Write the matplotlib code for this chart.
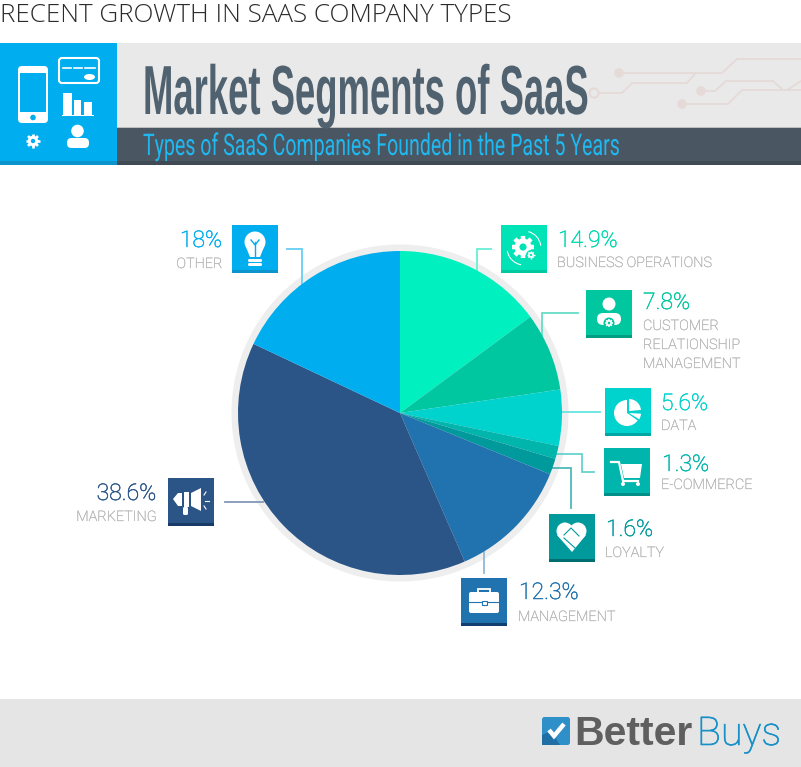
import numpy as np
import matplotlib
matplotlib.use('Agg')
import matplotlib.pyplot as plt
from matplotlib.patches import Rectangle, Circle, FancyBboxPatch, Polygon, Wedge, Ellipse
from matplotlib.patheffects import AbstractPathEffect, withStroke
from matplotlib.transforms import Affine2D

# datos del grafico, en orden horario desde arriba
segmentos = ['BUSINESS OPERATIONS', 'CUSTOMER\nRELATIONSHIP\nMANAGEMENT', 'DATA', 'E-COMMERCE',
             'LOYALTY', 'MANAGEMENT', 'MARKETING', 'OTHER']
valores = [14.9, 7.8, 5.6, 1.3, 1.6, 12.3, 38.6, 18]
etiquetas_valor = ['14.9%', '7.8%', '5.6%', '1.3%', '1.6%', '12.3%', '38.6%', '18%']
colores = ['#00F0C0', '#00C7A0', '#00D2CE', '#00B5AB', '#009A9C', '#2073AE', '#2B5587', '#00AEEF']
colores_borde = ['#00C9A0', '#009E80', '#00A6A3', '#008F88', '#006E70', '#123F70', '#173A66', '#0D94CC']
colores_guia = ['#66EFD5', '#66DCC5', '#66E4E1', '#66D3CD', '#4DB8BA', '#8FB9D7', '#8099B7', '#66CEF5']

W, H = 801, 767
plt.rcParams['font.family'] = ['Open Sans', 'DejaVu Sans']
fig = plt.figure(figsize=(W / 100, H / 100), dpi=100, facecolor='white')
ax = fig.add_axes([0, 0, 1, 1])
ax.set_xlim(0, W)
ax.set_ylim(H, 0)
ax.axis('off')


# deforma el texto, no hay fuente tan condensada instalada
class Comprimir(AbstractPathEffect):
    def __init__(self, sx, sy, x0, y0):
        super().__init__()
        self.t = Affine2D().translate(-x0, -y0).scale(sx, sy).translate(x0, y0)

    def draw_path(self, renderer, gc, tpath, affine, rgbFace=None):
        renderer.draw_path(gc, tpath, affine + self.t, rgbFace)


def texto_ajustado(x1, x2, y, s, sy=1.0, **kw):
    xc = (x1 + x2) / 2
    t = ax.text(xc, y, s, ha='center', va='baseline', **kw)
    ancho = t.get_window_extent(fig.canvas.get_renderer()).width
    t.set_path_effects([Comprimir((x2 - x1) / ancho, sy, xc, H - y)])
    return t


def rect(x, y, w, h, c, z=1):
    ax.add_patch(Rectangle((x, y), w, h, fc=c, ec='none', zorder=z))


def redondo(x, y, w, h, r, fc='white', ec='none', lw=0, z=5):
    ax.add_patch(FancyBboxPatch((x + r, y + r), w - 2 * r, h - 2 * r, boxstyle='round,pad=%g,rounding_size=%g' % (r, r),
                                fc=fc, ec=ec, lw=lw, zorder=z))


def circulo(x, y, r, c='white', z=5):
    ax.add_patch(Circle((x, y), r, fc=c, ec='none', zorder=z))


def engranaje(x, y, r, fondo, c='white', z=5):
    for a in np.arange(0, 180, 45):
        dx, dy = np.cos(np.radians(a)) * r * 1.35, np.sin(np.radians(a)) * r * 1.35
        ax.plot([x - dx, x + dx], [y - dy, y + dy], color=c, lw=r * 0.38, solid_capstyle='butt', zorder=z)
    circulo(x, y, r, c, z)
    circulo(x, y, r * 0.42, fondo, z + 0.1)


# ojo: el eje y esta invertido, los angulos de Wedge van en sentido horario
def icono_negocio(x, y, c):
    engranaje(x + 22, y + 22, 8.5, c)
    circulo(x + 30, y + 30, 5, c, 5.5)
    engranaje(x + 30, y + 30, 2.8, c, z=6)
    ax.add_patch(Wedge((x + 23, y + 23), 17.5, -75, -8, width=1.1, fc='white', ec='none', zorder=5))
    ax.add_patch(Wedge((x + 23, y + 23), 17.5, 100, 170, width=1.1, fc='white', ec='none', zorder=5))


def icono_cliente(x, y, c):
    circulo(x + 23, y + 14, 6.5)
    redondo(x + 11, y + 23, 24, 12, 6)
    circulo(x + 23, y + 33, 5.5, c, 6)
    engranaje(x + 23, y + 33, 3, c, z=7)


def icono_datos(x, y, c):
    ax.add_patch(Wedge((x + 22, y + 25), 13, 35, 270, fc='white', ec='none', zorder=5))
    ax.add_patch(Wedge((x + 24, y + 23), 12, 270, 355, fc='white', ec='none', zorder=5))
    ax.add_patch(Wedge((x + 24, y + 25), 12, 3, 32, fc='white', ec='none', zorder=5))


def icono_carro(x, y, c):
    ax.plot([x + 7, x + 15, x + 19, x + 34], [y + 14, y + 14, y + 33, y + 33], color='white', lw=1.6, zorder=5)
    ax.add_patch(Polygon([[x + 17, y + 16], [x + 38, y + 16], [x + 36, y + 30], [x + 20, y + 30]], fc='white', ec='none', zorder=5))
    circulo(x + 19, y + 36, 2)
    circulo(x + 34, y + 36, 2)


def icono_manos(x, y, c):
    circulo(x + 16, y + 17, 8.5)
    circulo(x + 29, y + 17, 8.5)
    ax.add_patch(Polygon([[x + 8, y + 21], [x + 37, y + 21], [x + 23, y + 38]], fc='white', ec='none', zorder=5))
    ax.plot([x + 15, x + 22, x + 30], [y + 21, y + 14, y + 22], color=c, lw=0.8, zorder=6)
    ax.plot([x + 15, x + 26], [y + 24, y + 34], color=c, lw=0.8, zorder=6)


def icono_maletin(x, y, c):
    redondo(x + 8, y + 14, 30, 21, 2)
    ax.add_patch(Rectangle((x + 17, y + 11), 12, 5, fc='none', ec='white', lw=1.3, zorder=5))
    ax.plot([x + 8, x + 38], [y + 24, y + 24], color=c, lw=0.8, zorder=6)
    ax.add_patch(Rectangle((x + 20.5, y + 23), 5, 4, fc='white', ec=c, lw=0.8, zorder=6))


def icono_megafono(x, y, c):
    ax.add_patch(Polygon([[x + 5, y + 21], [x + 10, y + 15], [x + 14, y + 15], [x + 14, y + 28], [x + 10, y + 28]], fc='white', ec='none', zorder=5))
    rect(x + 16, y + 14, 5, 15, 'white', 5)
    ax.add_patch(Polygon([[x + 23, y + 15], [x + 33, y + 10], [x + 33, y + 33], [x + 23, y + 28]], fc='white', ec='none', zorder=5))
    redondo(x + 15, y + 29, 5, 8, 1.5)
    for a, b, e, f in [(36, 17, 38, 14), (37, 23, 41, 23), (36, 28, 38, 31)]:
        ax.plot([x + a, x + e], [y + b, y + f], color='white', lw=0.8, zorder=5)


def icono_bombilla(x, y, c):
    circulo(x + 23, y + 17, 10.5)
    ax.add_patch(Polygon([[x + 14, y + 22], [x + 32, y + 22], [x + 28, y + 32], [x + 18, y + 32]], fc='white', ec='none', zorder=5))
    ax.plot([x + 23, x + 23], [y + 17, y + 31], color=c, lw=1, zorder=6)
    ax.plot([x + 19, x + 23, x + 27], [y + 15, y + 20, y + 15], color=c, lw=1, zorder=6)
    redondo(x + 16, y + 34, 14, 3, 1.4)
    redondo(x + 16, y + 38, 14, 3, 1.4)


# ---- cabecera
ax.text(0, 21.5, 'RECENT GROWTH IN SAAS COMPANY TYPES', fontsize=18.7, color='#2b2b2b', fontweight='light',
        family=['Open Sans Light', 'Open Sans', 'DejaVu Sans'], va='baseline', ha='left')
rect(0, 43, W, 84, '#E9E9E9')
rect(0, 127, W, 38, '#4A5763')
rect(0, 161, W, 4, '#3F4A55')
rect(117, 126.5, W, 1.2, '#BDBDBD', 2)
rect(0, 43, 117, 122, '#00AEEF', 3)
rect(0, 161, 117, 4, '#0D94CC', 3)

col_circ = '#E5DAD8'
for xs, ys in [([619, 722, 737, 801], [73, 73, 59, 59]),
               ([597, 622, 632, 687, 695], [93, 93, 83, 83, 74]),
               ([701, 715, 726, 773, 783, 801], [91, 91, 81, 81, 90, 90]),
               ([682, 728, 742, 778, 787, 801], [104, 104, 90, 90, 90, 81])]:
    ax.plot(xs, ys, color=col_circ, lw=1.3, zorder=2)
for cx, cy in [(619, 73), (701, 91), (682, 104)]:
    circulo(cx, cy, 4.8, col_circ, 2)
ax.add_patch(Circle((594, 93), 4.6, fc='#E9E9E9', ec=col_circ, lw=1.5, zorder=2))

texto_ajustado(143, 588, 114, 'Market Segments of SaaS', sy=1.25, fontsize=40, color='#50626F', fontweight='bold',
               family=['Liberation Sans Narrow', 'Liberation Sans'])
texto_ajustado(143, 620, 155, 'Types of SaaS Companies Founded in the Past 5 Years', fontsize=21.5, color='#1FB8F0',
               family=['Roboto', 'Liberation Sans'])

# iconos de la cabecera
redondo(18, 66, 30, 57, 4)
redondo(20, 73, 26, 39, 0.5, fc='#00AEEF', z=6)
circulo(33, 117.5, 2.8, '#00AEEF', 6)
redondo(59, 58, 40, 25, 3, fc='none', ec='white', lw=1.5)
ax.plot([63, 71], [68, 68], color='white', lw=1.2, zorder=5)
ax.plot([74, 82], [68, 68], color='white', lw=1.2, zorder=5)
ax.plot([85, 95], [68, 68], color='white', lw=1.2, zorder=5)
ax.add_patch(Ellipse((89.5, 77), 11, 6, fc='white', ec='none', zorder=5))
rect(63, 93, 9, 22, 'white', 5)
rect(74, 100, 7, 15, 'white', 5)
rect(84, 102, 8, 13, 'white', 5)
rect(62, 115, 32, 1, 'white', 5)
engranaje(33, 141, 5.2, '#00AEEF')
circulo(77.5, 131, 6.3)
redondo(67, 138, 22, 10, 4.5)

# ---- pie
circulo(400, 413, 168.5, '#EEEEEE', 1)
R = 162
ax_pie = fig.add_axes([(400 - R) / W, 1 - (413 + R) / H, 2 * R / W, 2 * R / H])
ax_pie.pie(valores, colors=colores, startangle=90, counterclock=False, radius=1)
ax_pie.set_xlim(-1, 1)
ax_pie.set_ylim(-1, 1)
ax_pie.patch.set_alpha(0)

# ---- cajas, guias y etiquetas
cajas = [(501, 225), (586, 290), (605, 388), (604, 448), (549, 514), (461, 578), (168, 478), (232, 225)]
iconos = [icono_negocio, icono_cliente, icono_datos, icono_carro, icono_manos, icono_maletin, icono_megafono, icono_bombilla]
guias = [([491, 477, 477], [249, 249, 270]),
         ([578, 542, 542], [313, 313, 335]),
         ([562, 600], [412, 412]),
         ([557, 582, 582, 594], [454, 454, 472, 472]),
         ([552, 571, 571], [468, 468, 508]),
         ([484, 484], [552, 573]),
         ([225, 263], [502, 502]),
         ([287, 302, 302], [249, 249, 285])]
pos_valor = [(558, 247), (643, 309), (661, 410), (662, 471), (606, 536), (519, 599), (156, 500), (222, 247)]
pos_nombre = [(557, 267), (643, 330), (661, 430), (661, 489), (605, 557), (518, 621), (156, 521), (222, 268)]

for i in range(len(segmentos)):
    x, y = cajas[i]
    rect(x, y, 46, 48, colores[i] if i != 0 else '#00E3B6', 3)
    rect(x, y + 45, 46, 3, colores_borde[i], 4)
    iconos[i](x, y, colores[i] if i != 0 else '#00E3B6')
    ax.plot(guias[i][0], guias[i][1], color=colores_guia[i], lw=1.3, zorder=2, solid_joinstyle='miter')
    ha = 'right' if pos_valor[i][0] < 300 else 'left'
    col_txt = colores[i] if i != 0 else '#00D9AE'
    ax.text(pos_valor[i][0], pos_valor[i][1], etiquetas_valor[i], fontsize=16.5, color=col_txt,
            ha=ha, va='baseline', family=['Roboto', 'DejaVu Sans'], fontweight='light',
            path_effects=[withStroke(linewidth=0.35, foreground=col_txt)])
    yn = pos_nombre[i][1]
    for linea in segmentos[i].split('\n'):
        ax.text(pos_nombre[i][0], yn, linea, fontsize=10.4, color='#B4B4B4', ha=ha, va='baseline',
                family=['Roboto', 'DejaVu Sans'], fontweight='light',
                path_effects=[withStroke(linewidth=0.2, foreground='#B4B4B4')])
        yn += 19

# ---- pie de pagina
rect(0, 699, W, 68, '#E5E5E5')
redondo(542, 717, 28, 28, 2.5, fc='#2F8FC8', z=3)
ax.add_patch(Polygon([[542, 745], [542, 735], [551, 731], [560, 745]], fc='#1F6FA6', ec='none', zorder=4))
ax.plot([549, 554, 564], [730, 736, 724], color='white', lw=3.2, zorder=5, solid_capstyle='butt', solid_joinstyle='miter')
ax.text(574, 745, 'Better', fontsize=29.5, color='#5F5F5F', fontweight='bold', family=['Liberation Sans'], va='baseline')
ax.text(697, 745, 'Buys', fontsize=28.5, color='#1590C8', fontweight='light', family=['Roboto', 'Liberation Sans'], va='baseline',
        path_effects=[withStroke(linewidth=0.4, foreground='#1590C8')])

fig.savefig('out.png', dpi=100, facecolor='white')
